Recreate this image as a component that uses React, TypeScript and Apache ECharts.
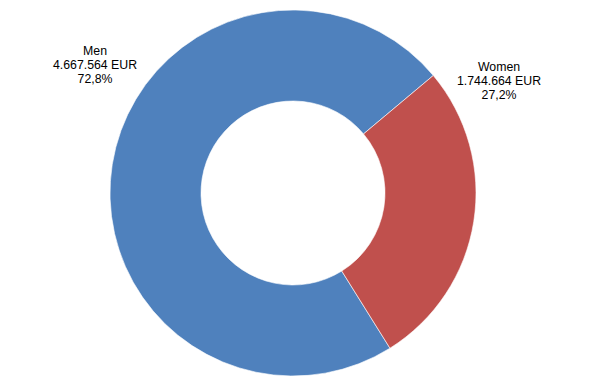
import React, { useEffect, useRef } from "react";
import * as echarts from "echarts";

const categories = ["Men", "Women"];
const values = [4667564, 1744664];
const colors = ["#4F81BD", "#C0504D"];
const labelPos = [
  [95, 65],
  [499, 81],
];

const fmtInt = (v: number) => String(v).replace(/\B(?=(\d{3})+(?!\d))/g, ".");

export default function App() {
  const ref = useRef<HTMLDivElement>(null);
  useEffect(() => {
    if (!ref.current) return;
    const chart = echarts.init(ref.current, undefined, { renderer: "svg" });
    const total = values.reduce((a, b) => a + b, 0);
    chart.setOption({
      animation: false,
      backgroundColor: "#ffffff",
      series: [
        {
          type: "pie",
          center: [293, 193],
          radius: [92, 183],
          startAngle: -58,
          clockwise: true,
          avoidLabelOverlap: false,
          itemStyle: { borderColor: "#ffffff", borderWidth: 0.6 },
          label: {
            show: true,
            position: "outside",
            fontFamily: "Liberation Sans, Arial, sans-serif",
            fontSize: 12.3,
            lineHeight: 14,
            color: "#000000",
            align: "center",
            formatter: (p: any) =>
              `${p.name}\n${fmtInt(p.value)} EUR\n${((p.value / total) * 100)
                .toFixed(1)
                .replace(".", ",")}%`,
          },
          labelLine: { show: false },
          labelLayout: (p: any) => ({
            x: labelPos[p.dataIndex][0],
            y: labelPos[p.dataIndex][1],
            align: "center",
            verticalAlign: "middle",
          }),
          data: categories.map((c, i) => ({
            name: c,
            value: values[i],
            itemStyle: { color: colors[i] },
          })),
        },
      ],
    });
    return () => chart.dispose();
  }, []);
  return (
    <div
      ref={ref}
      style={{ position: "fixed", left: 0, top: 0, width: 590, height: 384 }}
    />
  );
}
